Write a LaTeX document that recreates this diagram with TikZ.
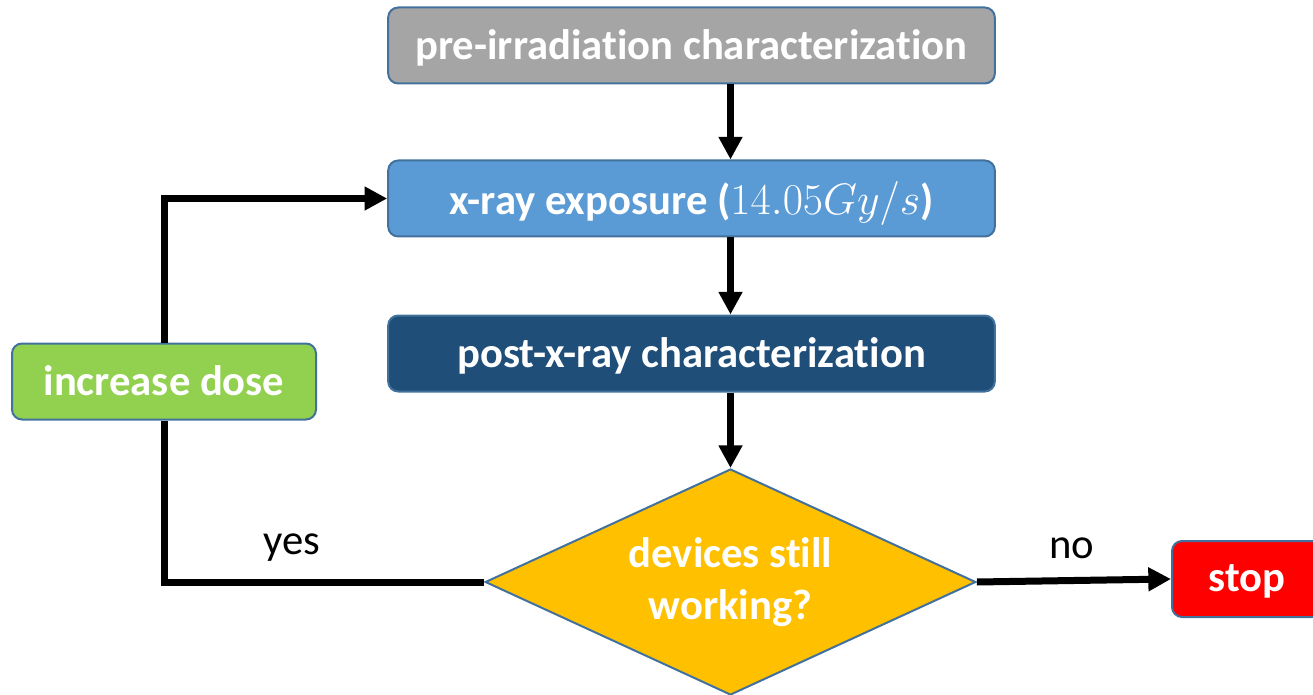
\RequirePackage{fix-cm}
\documentclass[tikz,border=0pt]{standalone}
\usepackage{fontspec}
\setmainfont{Carlito}[Ligatures=NoCommon]
\usetikzlibrary{shapes.geometric,arrows.meta}

\definecolor{edgeblue}{HTML}{41719C}
\definecolor{pregray}{HTML}{A5A5A5}
\definecolor{xrayblue}{HTML}{5B9BD5}
\definecolor{postblue}{HTML}{1F4E79}
\definecolor{dosegreen}{HTML}{92D050}
\definecolor{decorange}{HTML}{FFC000}
\definecolor{stopred}{HTML}{FF0000}

\tikzset{
	stage/.style={
		rectangle, rounded corners=7.5pt, draw=edgeblue, line width=1.5pt,
		text=white, font=\bfseries\fontsize{32}{39}\selectfont,
		inner sep=0pt, minimum height=57pt, text depth=0.1em
	},
	decision/.style={
		diamond, draw=edgeblue, line width=1.5pt, fill=decorange,
		text=white, font=\bfseries\fontsize{32}{39}\selectfont, align=center,
		inner sep=0pt, aspect=2.17, minimum width=368pt, minimum height=169.5pt
	},
	flow/.style={line width=5.25pt, draw=black},
	flowarrow/.style={flow, -{Triangle[length=17pt,width=17pt]}},
	answer/.style={font=\fontsize{32}{39}\selectfont, text=black}
}

\begin{document}
\begin{tikzpicture}[x=0.75pt, y=-0.75pt]
	\clip (0,0) rectangle (1313,695);

	% steps
	\node[stage, fill=pregray, minimum width=455pt] (pre) at (691.5,45.5) {pre-irradiation characterization};
	\node[stage, fill=xrayblue, minimum width=455pt] (xray) at (691.5,198.5) {x-ray exposure ({\fontsize{33}{39}\selectfont$14.05Gy/s$})};
	\node[stage, fill=postblue, minimum width=455pt] (post) at (691.5,353.5) {post-x-ray characterization};
	\node[stage, fill=dosegreen, minimum width=228pt] (dose) at (164,381.5) {increase dose};
	\node[decision] (dec) at (730.5,582) {devices still\\working?};
	\node[stage, fill=stopred, minimum width=112.5pt] (stop) at (1247,579) {stop};

	% labels
	\node[answer] (yeslabel) at (292,548) {yes};
	\node[answer] (nolabel) at (1072,548) {no};

	% connectors
	\draw[flowarrow] (pre.south -| dec.north) -- (xray.north -| dec.north);
	\draw[flowarrow] (xray.south -| dec.north) -- (post.north -| dec.north);
	\draw[flowarrow] (post.south -| dec.north) -- (dec.north);
	\draw[flowarrow] (dec.east) -- (stop.west);
	\draw[flow] (dec.west) -| (dose.south);
	\draw[flowarrow] (dose.north) |- (xray.west);
\end{tikzpicture}
\end{document}
